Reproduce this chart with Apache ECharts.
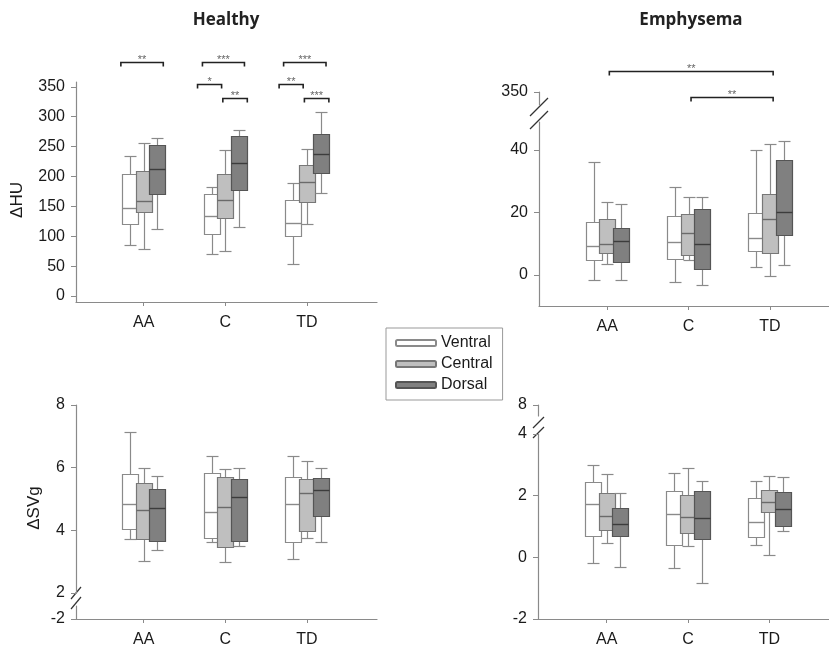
<!DOCTYPE html>
<html>
<head>
<meta charset="utf-8">
<script src="https://cdn.jsdelivr.net/npm/echarts@6/dist/echarts.min.js"></script>
<style>
  html, body { margin: 0; background: #fff; }
  #chart { width: 829px; height: 650px; }
</style>
</head>
<body>
<div id="chart"></div>
<script>
var categories = ['AA', 'C', 'TD'];

// each box: [min, Q1, median, Q3, max]
var healthyHuVentral = [[86, 120, 148, 204, 234], [71, 104, 134, 170, 182], [53, 100, 122, 160, 189]];
var healthyHuCentral = [[78, 140, 159, 209, 256], [75, 130, 161, 204, 244], [121, 158, 191, 220, 246]];
var healthyHuDorsal  = [[112, 171, 212, 252, 265], [116, 178, 222, 267, 277], [173, 205, 237, 271, 308]];

var emphHuVentral = [[-1.6, 4.8, 9.1, 16.9, 36.1], [-2.4, 5.2, 10.4, 18.8, 28.2], [2.4, 7.6, 11.8, 19.9, 40]];
var emphHuCentral = [[3.4, 6.9, 10, 18, 23.4], [4.6, 6.2, 13.3, 19.6, 25], [-0.4, 7.1, 18, 25.8, 42]];
var emphHuDorsal  = [[-1.8, 4.2, 10.7, 15.1, 22.8], [-3.4, 1.9, 10, 21, 25], [3.3, 12.9, 20.2, 36.7, 42.9]];

var healthySvVentral = [[3.72, 4.04, 4.83, 5.8, 7.15], [3.63, 3.77, 4.58, 5.84, 6.37], [3.08, 3.62, 4.83, 5.71, 6.38]];
var healthySvCentral = [[3.03, 3.72, 4.66, 5.51, 5.98], [3.0, 3.48, 4.75, 5.69, 5.95], [3.75, 3.98, 5.19, 5.65, 6.22]];
var healthySvDorsal  = [[3.37, 3.67, 4.72, 5.31, 5.72], [3.5, 3.67, 5.07, 5.64, 6.0], [3.64, 4.45, 5.3, 5.66, 6.0]];

var emphSvVentral = [[-0.17, 0.7, 1.72, 2.44, 3.01], [-0.34, 0.4, 1.42, 2.16, 2.72], [0.41, 0.66, 1.15, 1.94, 2.49]];
var emphSvCentral = [[0.45, 0.9, 1.33, 2.1, 2.7], [0.37, 0.78, 1.3, 2.03, 2.91], [0.06, 1.46, 1.78, 2.17, 2.64]];
var emphSvDorsal  = [[-0.3, 0.69, 1.07, 1.59, 2.09], [-0.82, 0.61, 1.27, 2.16, 2.46], [0.87, 1.02, 1.57, 2.11, 2.59]];

// tick labels
var healthyHuTicks = [0, 50, 100, 150, 200, 250, 300, 350];
var emphHuTicks = [0, 20, 40];
var emphHuTopTicks = [350];
var healthySvTicks = [2, 4, 6, 8];
var healthySvLowTicks = [-2];
var emphSvTicks = [-2, 0, 2, 4];
var emphSvTopTicks = [8];

// significance brackets: [from, to, level] in data units, with their stars
var healthyHuBrackets = [[0.72, 1.24, 391], [1.72, 2.235, 391], [1.66, 1.955, 354], [1.97, 2.27, 332],
                         [2.715, 3.235, 391], [2.66, 2.955, 354], [2.97, 3.27, 332]];
var healthyHuStars = ['**', '***', '*', '**', '***', '**', '***'];
var emphHuBrackets = [[1.025, 3.04, 65.5], [2.03, 3.04, 57]];
var emphHuStars = ['**', '**'];

var axisGray = '#8a8a8a';
var textColor = '#1a1a1a';
var font = 'Liberation Sans';

function toItems(rows) {
    return rows.map(function (r, i) { return [i + 1].concat(r); });
}

function boxRender(offset, fill, stroke, medColor) {
    return function (params, api) {
        var x = api.value(0);
        var cx = Math.round(api.coord([x, api.value(3)])[0] + offset) + 0.5;
        function py(d) { return Math.round(api.coord([x, api.value(d)])[1]) + 0.5; }
        var yMin = py(1), yQ1 = py(2), yMed = py(3), yQ3 = py(4), yMax = py(5);
        var hw = 8, cw = 6;
        var ws = { stroke: axisGray, lineWidth: 1.2 };
        return {
            type: 'group',
            children: [
                { type: 'line', shape: { x1: cx, y1: yMax, x2: cx, y2: yMin }, style: ws },
                { type: 'line', shape: { x1: cx - cw, y1: yMax, x2: cx + cw, y2: yMax }, style: ws },
                { type: 'line', shape: { x1: cx - cw, y1: yMin, x2: cx + cw, y2: yMin }, style: ws },
                { type: 'rect', shape: { x: cx - hw, y: yQ3, width: hw * 2, height: yQ1 - yQ3 },
                  style: { fill: fill, stroke: stroke, lineWidth: 1.2 } },
                { type: 'line', shape: { x1: cx - hw, y1: yMed, x2: cx + hw, y2: yMed },
                  style: { stroke: medColor, lineWidth: 1.4 } }
            ]
        };
    };
}

function bracketRender(stars) {
    return function (params, api) {
        var a = api.coord([api.value(0), api.value(2)]);
        var b = api.coord([api.value(1), api.value(2)]);
        var y = Math.round(a[1]) + 0.5;
        return {
            type: 'group',
            children: [
                { type: 'polyline', shape: { points: [[a[0], y + 4], [a[0], y], [b[0], y], [b[0], y + 4]] },
                  style: { stroke: '#222', lineWidth: 1.6, fill: null } },
                { type: 'text', style: { text: stars[params.dataIndex], x: (a[0] + b[0]) / 2, y: y - 3,
                  align: 'center', verticalAlign: 'middle', fill: '#666', font: '11px "Liberation Sans"' } }
            ]
        };
    };
}

var groups = [
    { name: 'Ventral', fill: '#ffffff', stroke: '#8a8a8a', med: '#8a8a8a', offset: -13.7 },
    { name: 'Central', fill: '#bfbfbf', stroke: '#777777', med: '#6a6a6a', offset: 0 },
    { name: 'Dorsal',  fill: '#808080', stroke: '#555555', med: '#3c3c3c', offset: 13.7 }
];

function xAxisFor(grid, min, max, show) {
    return {
        type: 'value', gridIndex: grid, min: min, max: max, show: show,
        axisLine: { show: true, onZero: false, lineStyle: { color: axisGray, width: 1.2 } },
        axisTick: { show: true, customValues: [1, 2, 3], length: 4, lineStyle: { color: axisGray } },
        axisLabel: { customValues: [1, 2, 3], margin: 13, color: textColor, fontSize: 16, fontFamily: font,
                     formatter: function (v) { return categories[Math.round(v) - 1]; } },
        splitLine: { show: false }
    };
}

function yAxisFor(grid, min, max, ticks) {
    return {
        type: 'value', gridIndex: grid, min: min, max: max,
        axisLine: { show: true, onZero: false, lineStyle: { color: axisGray, width: 1.2 } },
        axisTick: { show: true, customValues: ticks, length: 5, lineStyle: { color: axisGray } },
        axisLabel: { customValues: ticks, margin: 11, color: textColor, fontSize: 16, fontFamily: font },
        splitLine: { show: false }
    };
}

var grids = [
    { left: 76, top: 82, width: 301, height: 220 },    // healthy dHU
    { left: 539, top: 122, width: 290, height: 184 },  // emphysema dHU
    { left: 539, top: 92, width: 290, height: 13 },    // emphysema dHU, top part
    { left: 76, top: 405, width: 301, height: 188 },   // healthy dSVg
    { left: 76, top: 606, width: 301, height: 13 },    // healthy dSVg, low part
    { left: 538, top: 434, width: 291, height: 185 },  // emphysema dSVg
    { left: 538, top: 405, width: 291, height: 11 }    // emphysema dSVg, top part
];

var xAxes = [
    xAxisFor(0, 0.17, 3.86, true),
    xAxisFor(1, 0.16, 3.727, true),
    xAxisFor(2, 0.16, 3.727, false),
    xAxisFor(3, 0.17, 3.86, false),
    xAxisFor(4, 0.17, 3.86, true),
    xAxisFor(5, 0.155, 3.734, true),
    xAxisFor(6, 0.155, 3.734, false)
];

var yAxes = [
    yAxisFor(0, -10, 358, healthyHuTicks),
    yAxisFor(1, -10, 49, emphHuTicks),
    yAxisFor(2, 340, 350, emphHuTopTicks),
    yAxisFor(3, 2, 8, healthySvTicks),
    yAxisFor(4, -2, -1.5, healthySvLowTicks),
    yAxisFor(5, -2, 4, emphSvTicks),
    yAxisFor(6, 7, 8, emphSvTopTicks)
];

var panels = [
    { axis: 0, sets: [healthyHuVentral, healthyHuCentral, healthyHuDorsal] },
    { axis: 1, sets: [emphHuVentral, emphHuCentral, emphHuDorsal] },
    { axis: 3, sets: [healthySvVentral, healthySvCentral, healthySvDorsal] },
    { axis: 5, sets: [emphSvVentral, emphSvCentral, emphSvDorsal] }
];

var series = [];
panels.forEach(function (p) {
    groups.forEach(function (g, k) {
        series.push({
            type: 'custom', name: g.name, xAxisIndex: p.axis, yAxisIndex: p.axis,
            itemStyle: { color: g.fill, borderColor: g.stroke, borderWidth: 1 },
            renderItem: boxRender(g.offset, g.fill, g.stroke, g.med),
            encode: { x: 0, y: [1, 2, 3, 4, 5] },
            data: toItems(p.sets[k]),
            clip: false, silent: true
        });
    });
});
series.push({
    type: 'custom', xAxisIndex: 0, yAxisIndex: 0, clip: false, silent: true,
    renderItem: bracketRender(healthyHuStars), encode: { x: [0, 1], y: 2 }, data: healthyHuBrackets
});
series.push({
    type: 'custom', xAxisIndex: 1, yAxisIndex: 1, clip: false, silent: true,
    renderItem: bracketRender(emphHuStars), encode: { x: [0, 1], y: 2 }, data: emphHuBrackets
});

function slash(x1, y1, x2, y2) {
    return { type: 'line', shape: { x1: x1, y1: y1, x2: x2, y2: y2 }, style: { stroke: '#333', lineWidth: 1.2 } };
}

var chart = echarts.init(document.getElementById('chart'));
chart.setOption({
    animation: false,
    backgroundColor: '#fff',
    grid: grids,
    xAxis: xAxes,
    yAxis: yAxes,
    legend: {
        data: ['Ventral', 'Central', 'Dorsal'],
        orient: 'vertical', left: 386, top: 328,
        icon: 'roundRect', itemWidth: 40, itemHeight: 6, itemGap: 5,
        padding: [7, 10, 7, 9],
        borderColor: '#999', borderWidth: 1,
        selectedMode: false,
        textStyle: { fontSize: 16, fontFamily: font, color: textColor }
    },
    graphic: [
        { type: 'text', x: 226, y: 20, style: { text: 'Healthy', font: 'bold 17px "Open Sans"', fill: '#222', align: 'center', verticalAlign: 'middle' } },
        { type: 'text', x: 691, y: 20, style: { text: 'Emphysema', font: 'bold 17px "Open Sans"', fill: '#222', align: 'center', verticalAlign: 'middle' } },
        { type: 'text', x: 17, y: 200, rotation: Math.PI / 2, style: { text: '\u0394HU', font: '17px "Liberation Sans"', fill: textColor, align: 'center', verticalAlign: 'middle' } },
        { type: 'text', x: 34, y: 508, rotation: Math.PI / 2, style: { text: '\u0394SVg', font: '17px "Liberation Sans"', fill: textColor, align: 'center', verticalAlign: 'middle' } },
        slash(530, 116, 548, 98), slash(530, 129, 548, 111),
        slash(71, 599, 81, 587), slash(71, 609, 81, 597),
        slash(533, 428, 544, 417), slash(533, 438, 544, 427)
    ],
    series: series
});
</script>
</body>
</html>
